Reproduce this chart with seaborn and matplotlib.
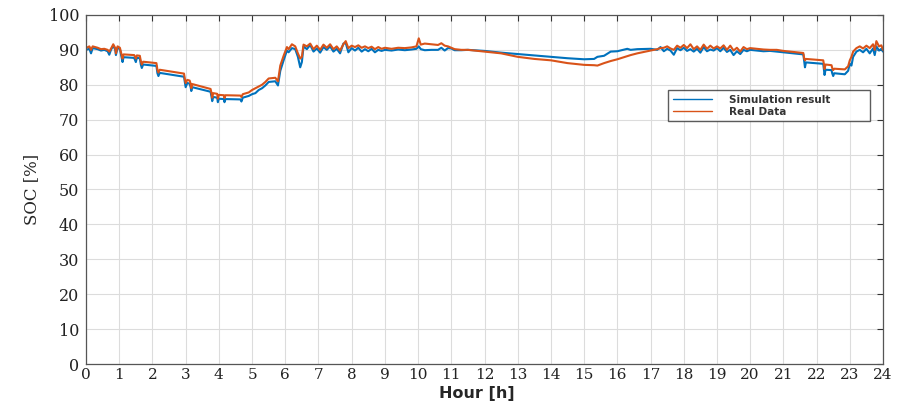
import pandas as pd
import numpy as np
import matplotlib
matplotlib.use('Agg')
import matplotlib.pyplot as plt
import seaborn as sns

# Valores (hora, SOC simulado, SOC real)
hours = [
    0.00, 0.10, 0.15, 0.20, 0.35, 0.45, 0.55, 0.65, 0.70, 0.75, 0.82, 0.88, 0.90, 0.95, 1.02,
    1.07, 1.10, 1.13, 1.45, 1.50, 1.53, 1.62, 1.65, 1.68, 1.72, 2.12, 2.15, 2.18, 2.22, 2.95,
    2.98, 3.00, 3.05, 3.12, 3.15, 3.17, 3.20, 3.75, 3.78, 3.80, 3.83, 3.95, 3.97, 4.00, 4.15,
    4.17, 4.20, 4.65, 4.68, 4.72, 4.90, 5.00, 5.10, 5.20, 5.30, 5.40, 5.50, 5.70, 5.78, 5.85,
    5.95, 6.05, 6.10, 6.20, 6.30, 6.38, 6.45, 6.50, 6.55, 6.65, 6.75, 6.85, 6.95, 7.05, 7.15,
    7.25, 7.35, 7.45, 7.55, 7.65, 7.75, 7.82, 7.90, 8.00, 8.10, 8.20, 8.30, 8.40, 8.50, 8.60,
    8.70, 8.80, 8.90, 9.00, 9.20, 9.40, 9.60, 9.80, 9.95, 10.02, 10.08, 10.20, 10.40, 10.60, 10.70,
    10.80, 10.90, 11.00, 11.10, 11.30, 11.50, 12.00, 12.50, 13.00, 13.50, 14.00, 14.50, 15.00, 15.30, 15.40,
    15.60, 15.80, 16.00, 16.30, 16.40, 16.60, 17.00, 17.20, 17.30, 17.40, 17.50, 17.60, 17.70, 17.80, 17.90,
    18.00, 18.10, 18.20, 18.30, 18.40, 18.50, 18.60, 18.70, 18.80, 18.90, 19.00, 19.10, 19.20, 19.30, 19.40,
    19.50, 19.60, 19.70, 19.80, 19.90, 20.00, 20.20, 20.40, 20.60, 20.80, 21.00, 21.30, 21.60, 21.63, 21.65,
    21.68, 22.20, 22.22, 22.24, 22.27, 22.45, 22.47, 22.50, 22.53, 22.85, 22.95, 23.00, 23.05, 23.10, 23.20,
    23.30, 23.40, 23.50, 23.60, 23.70, 23.75, 23.80, 23.88, 23.95, 24.00,
]

soc_sim = [
    90.0, 90.3, 89.0, 90.5, 90.2, 89.8, 90.0, 89.6, 88.6, 90.0, 91.2, 90.0, 88.5, 90.6, 90.2,
    87.9, 86.5, 87.9, 87.7, 86.5, 87.7, 87.6, 85.8, 84.8, 85.8, 85.4, 83.3, 82.5, 83.4, 82.3,
    80.5, 79.3, 80.5, 80.3, 79.3, 78.2, 79.3, 78.0, 76.5, 75.3, 76.5, 76.3, 75.0, 76.0, 75.9,
    75.0, 75.9, 75.8, 75.2, 76.3, 76.8, 77.3, 77.6, 78.5, 79.0, 79.8, 80.8, 81.0, 79.8, 84.0,
    87.0, 89.8, 89.3, 90.5, 90.2, 88.0, 85.0, 86.5, 91.0, 90.2, 91.4, 89.5, 90.4, 89.2, 90.8,
    90.0, 91.0, 89.5, 90.3, 89.0, 91.8, 92.0, 89.3, 90.5, 89.8, 90.6, 89.5, 90.2, 89.6, 90.3,
    89.3, 90.0, 89.7, 90.0, 89.8, 90.1, 89.9, 90.1, 90.3, 91.0, 90.2, 89.9, 90.0, 90.0, 90.6,
    89.8, 90.5, 90.4, 89.9, 89.9, 90.0, 89.7, 89.2, 88.8, 88.4, 88.0, 87.6, 87.3, 87.4, 88.0,
    88.3, 89.5, 89.6, 90.3, 90.0, 90.2, 90.3, 90.0, 90.8, 89.6, 90.3, 89.8, 88.6, 90.5, 89.9,
    90.6, 89.7, 90.2, 89.5, 90.3, 89.2, 90.8, 89.6, 90.1, 89.8, 90.5, 89.6, 90.6, 89.4, 90.0,
    88.5, 89.6, 88.8, 90.0, 89.6, 90.0, 89.8, 89.6, 89.7, 89.5, 89.3, 89.0, 88.7, 86.4, 85.0,
    86.4, 86.0, 84.3, 82.8, 84.3, 84.2, 83.3, 82.5, 83.3, 83.0, 84.0, 86.0, 85.5, 88.0, 89.5,
    90.0, 89.3, 90.3, 89.0, 90.4, 88.5, 91.0, 89.8, 90.3, 89.5,
]

soc_real = [
    90.5, 91.0, 90.0, 91.0, 90.6, 90.2, 90.3, 90.0, 89.5, 90.3, 91.6, 90.5, 89.0, 91.0, 90.6,
    88.7, 87.5, 88.7, 88.5, 87.5, 88.4, 88.3, 86.8, 85.8, 86.6, 86.2, 84.3, 83.5, 84.3, 83.2,
    81.4, 80.5, 81.4, 81.2, 80.3, 79.0, 80.2, 78.8, 77.6, 76.3, 77.6, 77.4, 76.0, 77.1, 77.0,
    76.2, 77.0, 76.9, 76.5, 77.3, 77.8, 78.5, 79.0, 79.5, 80.0, 80.8, 81.8, 82.0, 81.0, 85.5,
    88.3, 90.8, 90.2, 91.6, 91.0, 89.0, 87.5, 88.0, 91.5, 91.0, 91.8, 90.2, 91.2, 90.0, 91.5,
    90.6, 91.6, 90.2, 91.0, 89.8, 91.6, 92.5, 90.5, 91.2, 90.8, 91.3, 90.6, 91.0, 90.5, 90.9,
    90.2, 90.8, 90.3, 90.6, 90.3, 90.6, 90.5, 90.7, 91.0, 93.3, 91.5, 91.8, 91.6, 91.4, 91.9,
    91.2, 91.0, 90.6, 90.2, 90.0, 90.0, 89.5, 89.0, 88.0, 87.4, 87.0, 86.2, 85.7, 85.6, 85.5,
    86.2, 86.8, 87.3, 88.2, 88.5, 89.0, 89.8, 90.2, 90.5, 90.6, 91.0, 90.4, 90.0, 91.2, 90.6,
    91.4, 90.5, 91.6, 90.2, 91.0, 90.0, 91.5, 90.3, 91.2, 90.4, 91.0, 90.4, 91.3, 90.0, 91.2,
    89.8, 90.6, 89.5, 90.8, 90.2, 90.5, 90.3, 90.1, 90.0, 90.0, 89.7, 89.4, 89.1, 87.4, 87.0,
    87.4, 87.0, 85.9, 84.5, 85.8, 85.6, 84.8, 84.2, 84.6, 84.4, 85.3, 87.0, 88.0, 89.5, 90.5,
    91.0, 90.4, 91.2, 90.5, 91.6, 90.0, 92.5, 91.0, 91.3, 90.0,
]

series_names = ['Simulation result', 'Real Data']
series_colors = ['#0072BD', '#D95319']
x_ticks = list(range(0, 25))
y_ticks = list(range(0, 101, 10))

df = pd.DataFrame({'Hour': hours, series_names[0]: soc_sim, series_names[1]: soc_real})
df_long = df.melt(id_vars='Hour', var_name='Serie', value_name='SOC')

sns.set_style('white')
fig = plt.figure(figsize=(8.98, 4.04), dpi=100)
ax = fig.add_axes([0.0958, 0.099, 0.8875, 0.864])

sns.lineplot(data=df_long, x='Hour', y='SOC', hue='Serie', palette=series_colors,
             estimator=None, sort=False, linewidth=1.5, ax=ax)

ax.set_xlim(0, 24)
ax.set_ylim(0, 100)
ax.set_xticks(x_ticks)
ax.set_yticks(y_ticks)
ax.set_xticklabels([str(t) for t in x_ticks], family='DejaVu Serif', fontsize=11)
ax.set_yticklabels([str(t) for t in y_ticks], family='DejaVu Serif', fontsize=11.5)
ax.tick_params(direction='in', top=True, right=True, length=4, width=0.8,
               color='#333333', labelcolor='#222222', pad=5)
ax.tick_params(axis='x', pad=3)
ax.grid(True, color='#dcdcdc', linewidth=0.8)
for s in ax.spines.values():
    s.set_color('#555555')
    s.set_linewidth(0.9)

ax.set_ylabel('SOC [%]', family='DejaVu Serif', fontsize=12, labelpad=6)
ax.set_xlabel('Hour [h]', family='DejaVu Sans', fontweight='bold', fontsize=11.5)
ax.xaxis.set_label_coords(0.49, -0.062)

leg = ax.legend(loc='upper left', bbox_to_anchor=(0.730, 0.785, 0.254, 0.0), mode='expand',
                borderaxespad=0, frameon=True, fancybox=False, handlelength=3.8,
                borderpad=0.45, labelspacing=0.2, handletextpad=1.6,
                prop={'family': 'DejaVu Sans', 'weight': 'bold', 'size': 7.5})
leg.get_frame().set_edgecolor('#333333')
leg.get_frame().set_linewidth(1.0)
for line in leg.get_lines():
    line.set_linewidth(1.0)
for txt in leg.get_texts():
    txt.set_color('#333333')

plt.savefig('out.png', dpi=100)
plt.close()
